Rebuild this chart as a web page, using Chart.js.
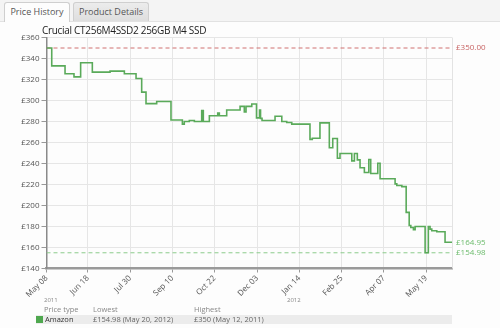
<!DOCTYPE html>
<html>
<head>
<meta charset="utf-8">
<script src="https://cdn.jsdelivr.net/npm/chart.js@4/dist/chart.umd.min.js"></script>
<style>
  html, body { margin: 0; padding: 0; background: #fdfdfd; }
  body { width: 500px; height: 328px; position: relative; overflow: hidden; font-family: "Open Sans", "DejaVu Sans", sans-serif; }
  #wrap { position: absolute; left: 0; top: 0; width: 500px; height: 328px; }
  .tabbar { position: absolute; left: 0; top: 0; width: 500px; height: 21px; background: #f4f4f4; border-bottom: 1px solid #e2e2e2; }
  .tab { position: absolute; top: 2px; height: 18px; border: 1px solid #cfcfcf; border-bottom: none; border-radius: 3px 3px 0 0; font-size: 9px; line-height: 18px; color: #555; text-align: center; }
  .tab.on { left: 4px; width: 64px; background: #fdfdfd; height: 19px; }
  .tab.off { left: 73px; width: 74px; background: linear-gradient(#ececec, #dedede); }
  .title { position: absolute; left: 42px; top: 23px; font-size: 10px; letter-spacing: -0.3px; color: #222; white-space: nowrap; }
  .small { position: absolute; font-size: 6px; color: #888; }
  .tbl { position: absolute; font-size: 7.5px; color: #888; white-space: nowrap; }
  .row { position: absolute; left: 36px; top: 315px; width: 416px; height: 9px; background: #ececec; }
  .sq { position: absolute; left: 36px; top: 316px; width: 7px; height: 7px; background: #4fa84f; }
  .dark { color: #333; }
  canvas { position: absolute; left: 0; top: 0; }
</style>
</head>
<body>
<div id="wrap">
  <div class="tabbar"></div>
  <div class="tab on">Price History</div>
  <div class="tab off">Product Details</div>
  <canvas id="c" width="500" height="328"></canvas>
  <div class="title">Crucial CT256M4SSD2 256GB M4 SSD</div>
  <div class="small" style="left:44px; top:296px;">2011</div>
  <div class="small" style="left:287px; top:296px;">2012</div>
  <div class="tbl" style="left:44px; top:304px;">Price type</div>
  <div class="tbl" style="left:93px; top:304px;">Lowest</div>
  <div class="tbl" style="left:194px; top:304px;">Highest</div>
  <div class="row"></div>
  <div class="sq"></div>
  <div class="tbl dark" style="left:45px; top:314px;">Amazon</div>
  <div class="tbl" style="left:93px; top:314px; color:#666;">£154.98 (May 20, 2012)</div>
  <div class="tbl" style="left:194px; top:314px; color:#666;">£350 (May 12, 2011)</div>
</div>
<script>
// Days since May 08, 2011
const tickDays = [0, 41, 83, 125, 167, 209, 251, 293, 335, 377];
const tickLabels = ['May 08', 'Jun 18', 'Jul 30', 'Sep 10', 'Oct 22', 'Dec 03', 'Jan 14', 'Feb 25', 'Apr 07', 'May 19'];
const yTicks = [140, 160, 180, 200, 220, 240, 260, 280, 300, 320, 340, 360];

// Amazon price history (step changes): day offset, price
const priceDays = [0, 5.2, 18.4, 27.3, 33.9, 45.5, 63.1, 77.3, 88.9, 94.5, 98.8, 109.4, 123.6,
  134.9, 136.8, 141.8, 146.8, 154.1, 155.7, 161.7, 170, 171.6, 178.9, 192.2, 196.4, 198.1, 203.8,
  208.5, 211.5, 212.5, 214, 226.9, 233.6, 238.5, 243.5, 261.6, 263.9, 271.5, 280.8, 284.2, 288.8,
  291.4, 303.1, 305.7, 308.6, 311.3, 315.6, 320, 321.9, 328.9, 331.2, 346.1, 347.8, 352.8, 357.1,
  360.1, 361.7, 364.3, 366, 375.9, 379.1, 380.8, 382.5, 387.5, 395.7, 402.6];
const prices = [350, 333, 325.5, 322.5, 336, 327, 328, 325.5, 321, 308, 297, 299, 281.5,
  277.5, 280, 281, 280, 290.5, 280, 285.5, 288, 285.5, 291, 294.4, 289, 294.4, 296.6,
  283.5, 291, 283, 281, 285, 280, 279, 277.5, 263, 264, 278.7, 255, 263.8, 245,
  249.5, 242.5, 249.5, 243.5, 236, 231.4, 243.8, 230.5, 240.3, 225.5, 220.6, 219, 218, 193.5,
  181, 179, 177, 180, 154.98, 180, 177.5, 176, 175, 164.95, 164.95];

const xMax = 402.6;
const highest = 350.00;
const lowest = 154.98;
const current = 164.95;
const refLabels = ['£350.00', '£164.95', '£154.98'];

const rightLabels = {
  id: 'rightLabels',
  afterDraw(chart) {
    const ctx = chart.ctx, a = chart.chartArea, y = chart.scales.y;
    ctx.save();
    ctx.strokeStyle = '#e3e3e3'; ctx.lineWidth = 1;
    ctx.beginPath(); ctx.moveTo(a.right + 0.5, a.top); ctx.lineTo(a.right + 0.5, a.bottom); ctx.stroke();
    ctx.font = '8px "Open Sans", "DejaVu Sans", sans-serif';
    ctx.textBaseline = 'middle'; ctx.textAlign = 'left';
    ctx.fillStyle = '#c86464';
    ctx.fillText(refLabels[0], a.right + 4, y.getPixelForValue(highest));
    ctx.fillStyle = '#6cbb6c';
    ctx.fillText(refLabels[1], a.right + 4, y.getPixelForValue(current));
    ctx.fillText(refLabels[2], a.right + 4, y.getPixelForValue(lowest));
    ctx.restore();
  }
};

new Chart(document.getElementById('c'), {
  type: 'line',
  data: {
    datasets: [
      {
        data: priceDays.map((d, i) => ({ x: d, y: prices[i] })),
        stepped: 'before',
        borderColor: '#5aaa5a',
        borderWidth: 1.6,
        pointRadius: 0,
        fill: false,
        order: 1
      },
      {
        data: [{ x: 0, y: highest }, { x: xMax, y: highest }],
        borderColor: '#d07070',
        borderWidth: 1,
        borderDash: [4, 3],
        pointRadius: 0,
        order: 2
      },
      {
        data: [{ x: 0, y: lowest }, { x: xMax, y: lowest }],
        borderColor: '#8ccc8c',
        borderWidth: 1,
        borderDash: [4, 3],
        pointRadius: 0,
        order: 2
      }
    ]
  },
  options: {
    responsive: false,
    animation: false,
    events: [],
    layout: { padding: { top: 37.5, right: 48, left: 0, bottom: 0 } },
    plugins: { legend: { display: false }, tooltip: { enabled: false } },
    scales: {
      x: {
        type: 'linear',
        min: 0,
        max: xMax,
        afterFit(s) { s.height = 59.5; },
        afterBuildTicks(s) { s.ticks = tickDays.map(v => ({ value: v })); },
        grid: { color: '#e6e6e6', lineWidth: 1, tickLength: 4, tickColor: '#999' },
        border: { color: '#9a9a9a', width: 2.5 },
        ticks: {
          autoSkip: false,
          maxRotation: 45,
          minRotation: 45,
          padding: 1,
          color: '#555',
          font: { size: 8, family: '"Open Sans", "DejaVu Sans", sans-serif' },
          callback(v) { const i = tickDays.indexOf(v); return i >= 0 ? tickLabels[i] : ''; }
        }
      },
      y: {
        min: 140,
        max: 360,
        afterFit(s) { s.width = 46.5; },
        afterBuildTicks(s) { s.ticks = yTicks.map(v => ({ value: v })); },
        grid: { color: '#e6e6e6', lineWidth: 1, tickLength: 5, tickColor: '#999' },
        border: { color: '#8a8a8a', width: 1.5 },
        ticks: {
          padding: 2,
          color: '#555',
          font: { size: 8, family: '"Open Sans", "DejaVu Sans", sans-serif' },
          callback(v) { return '£' + v; }
        }
      }
    }
  },
  plugins: [rightLabels]
});
</script>
</body>
</html>
